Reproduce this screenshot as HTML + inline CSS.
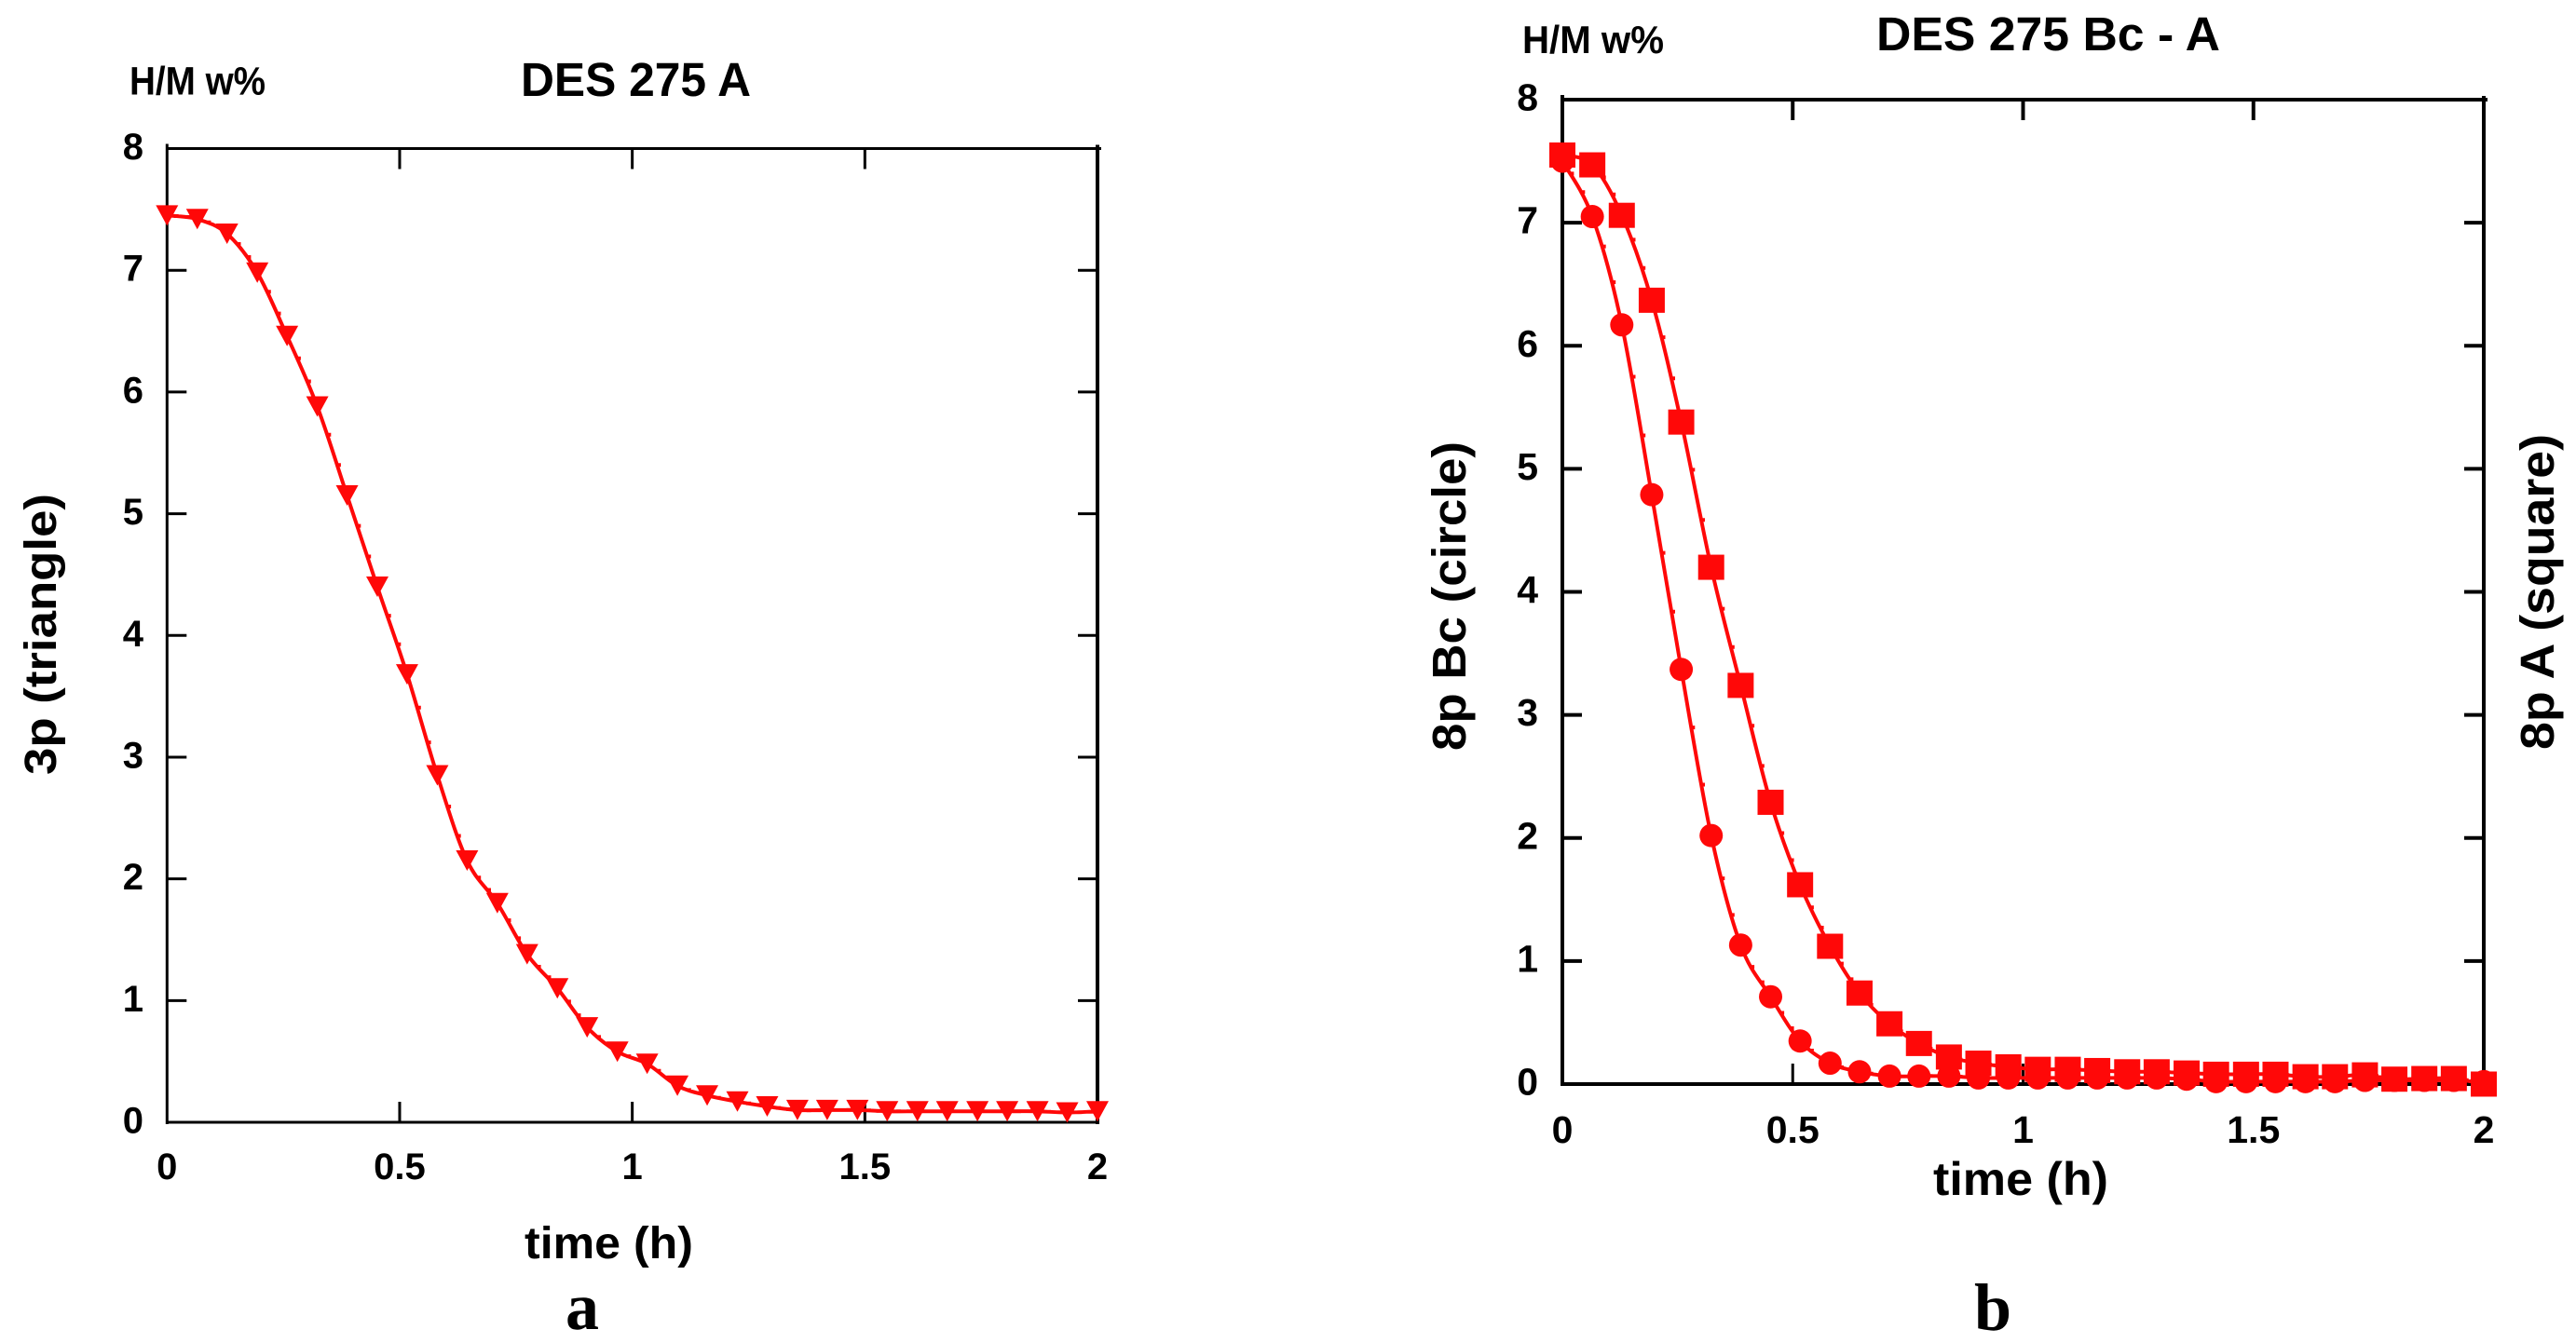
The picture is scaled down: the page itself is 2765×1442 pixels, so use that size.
<!DOCTYPE html>
<html lang="en">
<head>
<meta charset="utf-8">
<title>DES 275 hydrogen desorption charts</title>
<style>
html,body{margin:0;padding:0;background:#fff;}
svg{display:block;}
text{font-family:"Liberation Sans",sans-serif;font-weight:bold;fill:#000;}
.panel{font-family:"Liberation Serif",serif;font-size:72px;}
</style>
</head>
<body>
<svg id="figure" xmlns="http://www.w3.org/2000/svg" width="2765" height="1442" viewBox="0 0 2765 1442">
  <rect x="0" y="0" width="2765" height="1442" fill="#fff"/>

  <g id="chart-a">
    <text x="139" y="101.5" font-size="43" textLength="146" lengthAdjust="spacingAndGlyphs">H/M w%</text>
    <text x="559" y="103" font-size="51" textLength="247" lengthAdjust="spacingAndGlyphs">DES 275 A</text>
    <text x="563" y="1351" font-size="48" textLength="181" lengthAdjust="spacingAndGlyphs">time (h)</text>
    <text transform="translate(60,832) rotate(-90)" font-size="48" textLength="302" lengthAdjust="spacingAndGlyphs">3p (triangle)</text>
    <text class="panel" x="607" y="1427">a</text>
  </g>

  <g id="chart-b">
    <text x="1634" y="57" font-size="42" textLength="152" lengthAdjust="spacingAndGlyphs">H/M w%</text>
    <text x="2014" y="54" font-size="51" textLength="369" lengthAdjust="spacingAndGlyphs">DES 275 Bc - A</text>
    <text x="2075" y="1283" font-size="50" textLength="188" lengthAdjust="spacingAndGlyphs">time (h)</text>
    <text transform="translate(1573,806) rotate(-90)" font-size="51" textLength="332" lengthAdjust="spacingAndGlyphs">8p Bc (circle)</text>
    <text transform="translate(2741,805) rotate(-90)" font-size="51" textLength="339" lengthAdjust="spacingAndGlyphs">8p A (square)</text>
    <text class="panel" x="2119" y="1428">b</text>
  </g>
</svg>

<script>
// ---- data ----
const timeHours = [0,0.065,0.129,0.194,0.258,0.323,0.387,0.452,0.516,0.581,0.645,0.710,0.774,0.839,0.903,0.968,1.032,1.097,1.161,1.226,1.290,1.355,1.419,1.484,1.548,1.613,1.677,1.742,1.806,1.871,1.935,2];
const triangle3pA = [7.45,7.42,7.30,6.98,6.46,5.88,5.15,4.40,3.68,2.85,2.15,1.80,1.38,1.10,0.78,0.58,0.48,0.30,0.22,0.17,0.13,0.10,0.10,0.10,0.09,0.09,0.09,0.09,0.09,0.09,0.08,0.09];
const circle8pBc = [7.50,7.05,6.17,4.79,3.37,2.02,1.13,0.71,0.35,0.17,0.10,0.065,0.065,0.065,0.05,0.05,0.05,0.05,0.05,0.05,0.05,0.04,0.02,0.02,0.02,0.02,0.02,0.03,0.03,0.03,0.03,0.02];
const square8pA = [7.55,7.47,7.06,6.37,5.38,4.20,3.24,2.29,1.62,1.12,0.74,0.49,0.33,0.22,0.17,0.14,0.12,0.12,0.11,0.10,0.10,0.09,0.08,0.08,0.08,0.06,0.06,0.075,0.04,0.045,0.045,0];
const xTickValues = [0,0.5,1,1.5,2];
const xTickLabels = ['0','0.5','1','1.5','2'];
const yTickValues = [0,1,2,3,4,5,6,7,8];
const yTickLabels = ['0','1','2','3','4','5','6','7','8'];

const SVGNS = 'http://www.w3.org/2000/svg';
const RED = '#ff0808';

// ---- axis functions ----
function xA(t){ return 179.3 + (1178 - 179.3) * t / 2; }
function yA(v){ return 1205 - (1205 - 159.5) * v / 8; }
function xB(t){ return 1677 + (2666 - 1677) * t / 2; }
function yB(v){ return 1164 - (1164 - 107) * v / 8; }

function make(tag, parent){
  const el = document.createElementNS(SVGNS, tag);
  parent.appendChild(el);
  return el;
}

function drawFrame(group, xf, yf, weight, rightWeight, suffix, labelRight, xLabelBase, fontSize){
  const x0 = xf(0), x1 = xf(2), y0 = yf(0), y1 = yf(8);
  const frame = [
    ['axis-left', x0, y1 - 5, x0, y0 + 2, weight],
    ['axis-right', x1, y1 - 4, x1, y0 + 2, rightWeight],
    ['axis-top', x0, y1, x1 + 4, y1, weight],
    ['axis-bottom', x0, y0, x1, y0, weight]
  ];
  for (const f of frame) {
    const ln = make('line', group);
    
    
    ln.setAttribute('x1', f[1]); ln.setAttribute('y1', f[2]);
    ln.setAttribute('x2', f[3]); ln.setAttribute('y2', f[4]);
    ln.setAttribute('stroke', '#000');
    ln.setAttribute('stroke-width', f[5]);
  }
  xTickValues.forEach((t, i) => {
    const px = xf(t);
    if (i > 0 && i < xTickValues.length - 1) {
      const top = make('line', group);
      
      
      top.setAttribute('x1', px); top.setAttribute('y1', y1);
      top.setAttribute('x2', px); top.setAttribute('y2', y1 + 22);
      top.setAttribute('stroke', '#000');
      top.setAttribute('stroke-width', weight);
      const bot = make('line', group);
      
      
      bot.setAttribute('x1', px); bot.setAttribute('y1', y0);
      bot.setAttribute('x2', px); bot.setAttribute('y2', y0 - 22);
      bot.setAttribute('stroke', '#000');
      bot.setAttribute('stroke-width', 3);
    }
    const lab = make('text', group);
    
    
    lab.setAttribute('x', px);
    lab.setAttribute('y', xLabelBase);
    lab.setAttribute('text-anchor', 'middle');
    lab.setAttribute('font-size', fontSize);
    lab.textContent = xTickLabels[i];
  });
  yTickValues.forEach((v, i) => {
    const py = yf(v);
    if (i > 0 && i < yTickValues.length - 1) {
      const left = make('line', group);
      
      
      left.setAttribute('x1', x0); left.setAttribute('y1', py);
      left.setAttribute('x2', x0 + 21); left.setAttribute('y2', py);
      left.setAttribute('stroke', '#000');
      left.setAttribute('stroke-width', weight);
      const right = make('line', group);
      
      
      right.setAttribute('x1', x1); right.setAttribute('y1', py);
      right.setAttribute('x2', x1 - 21); right.setAttribute('y2', py);
      right.setAttribute('stroke', '#000');
      right.setAttribute('stroke-width', weight);
    }
    const lab = make('text', group);
    
    
    lab.setAttribute('x', labelRight);
    lab.setAttribute('y', py + 11.5);
    lab.setAttribute('text-anchor', 'end');
    lab.setAttribute('font-size', fontSize);
    lab.textContent = yTickLabels[i];
  });
}

// smooth curve through the samples, with the small nubs the original plot shows between markers
function curvePath(xs, ys, xf, yf){
  const pts = xs.map((t, i) => [xf(t), yf(ys[i])]);
  let d = 'M' + pts[0][0].toFixed(1) + ' ' + pts[0][1].toFixed(1);
  let nubs = '';
  for (let i = 0; i < pts.length - 1; i++) {
    const p0 = pts[Math.max(i - 1, 0)], p1 = pts[i], p2 = pts[i + 1], p3 = pts[Math.min(i + 2, pts.length - 1)];
    const c1 = [p1[0] + (p2[0] - p0[0]) / 6, p1[1] + (p2[1] - p0[1]) / 6];
    const c2 = [p2[0] - (p3[0] - p1[0]) / 6, p2[1] - (p3[1] - p1[1]) / 6];
    d += 'C' + c1[0].toFixed(1) + ' ' + c1[1].toFixed(1) + ' ' + c2[0].toFixed(1) + ' ' + c2[1].toFixed(1) + ' ' + p2[0].toFixed(1) + ' ' + p2[1].toFixed(1);
    for (const u of [1 / 3, 2 / 3]) {
      const w = 1 - u;
      const bx = w*w*w*p1[0] + 3*w*w*u*c1[0] + 3*w*u*u*c2[0] + u*u*u*p2[0];
      const by = w*w*w*p1[1] + 3*w*w*u*c1[1] + 3*w*u*u*c2[1] + u*u*u*p2[1];
      nubs += 'M' + (bx - 1).toFixed(1) + ' ' + by.toFixed(1) + 'h5';
    }
  }
  return d + nubs;
}

function drawSeries(group, xs, ys, xf, yf, kind, name){
  const line = make('path', group);
  
  
  line.setAttribute('d', curvePath(xs, ys, xf, yf));
  line.setAttribute('fill', 'none');
  line.setAttribute('stroke', RED);
  line.setAttribute('stroke-width', 4);
  xs.forEach((t, i) => {
    const px = xf(t), py = yf(ys[i]);
    let m;
    if (kind === 'triangle') {
      m = make('polygon', group);
      m.setAttribute('points', (px - 12) + ',' + (py - 11) + ' ' + (px + 12) + ',' + (py - 11) + ' ' + px + ',' + (py + 11));
    } else if (kind === 'square') {
      m = make('rect', group);
      m.setAttribute('x', px - 14);
      m.setAttribute('y', py - 13.5);
      m.setAttribute('width', 28);
      m.setAttribute('height', 27);
    } else {
      m = make('circle', group);
      m.setAttribute('cx', px);
      m.setAttribute('cy', py);
      m.setAttribute('r', 12.5);
    }
    
    
    m.setAttribute('fill', RED);
  });
}

const groupA = document.getElementById('chart-a');
const groupB = document.getElementById('chart-b');

drawFrame(groupA, xA, yA, 3, 4, 'a', 154, 1266, 40);
drawFrame(groupB, xB, yB, 4, 4, 'b', 1651, 1227, 41);

drawSeries(groupA, timeHours, triangle3pA, xA, yA, 'triangle', 'series-3p-triangle');
drawSeries(groupB, timeHours, circle8pBc, xB, yB, 'circle', 'series-8p-bc-circle');
drawSeries(groupB, timeHours, square8pA, xB, yB, 'square', 'series-8p-a-square');
</script>
</body>
</html>
